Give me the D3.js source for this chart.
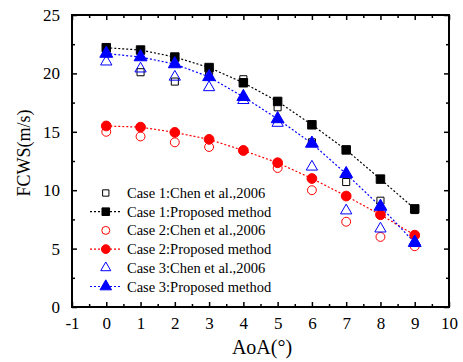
<!DOCTYPE html>
<html>
<head>
<meta charset="utf-8">
<script src="https://cdn.jsdelivr.net/npm/d3@7"></script>
<style>
  body { margin: 0; background: #fff; }
</style>
</head>
<body>
<svg id="chart" width="463" height="362"></svg>
<script>
// Données
const aoa = [0, 1, 2, 3, 4, 5, 6, 7, 8, 9]
const case1Chen = [21.8, 20.1, 19.3, 19.8, 19.5, 17.1, 14.1, 10.7, 9.1, 8.3]
const case1Prop = [22.2, 22.0, 21.4, 20.5, 19.2, 17.6, 15.6, 13.45, 10.95, 8.4]
const case2Chen = [15.0, 14.6, 14.1, 13.7, 13.4, 11.9, 10.0, 7.3, 6.0, 5.2]
const case2Prop = [15.5, 15.4, 14.95, 14.35, 13.4, 12.35, 11.0, 9.5, 7.9, 6.15]
const case3Chen = [21.0, 20.4, 19.7, 18.8, 17.7, 15.75, 12.0, 8.25, 6.7, 5.6]
const case3Prop = [21.7, 21.4, 20.8, 19.7, 18.0, 16.1, 14.0, 11.4, 8.6, 5.5]
const xTicks = [-1, 0, 1, 2, 3, 4, 5, 6, 7, 8, 9, 10]
const yTicks = [0, 5, 10, 15, 20, 25]
const legendLabels = [
    "Case 1:Chen et al.,2006", "Case 1:Proposed method",
    "Case 2:Chen et al.,2006", "Case 2:Proposed method",
    "Case 3:Chen et al.,2006", "Case 3:Proposed method"
]

const svg = d3.select("#chart")
const mLeft = 72, mRight = 449, mTop = 15, mBottom = 307
const serif = "'Liberation Serif', serif"

const x = d3.scaleLinear().domain([-1, 10]).range([mLeft, mRight])
const y = d3.scaleLinear().domain([0, 25]).range([mBottom, mTop])

// Séries
const series = [
    { vals: case1Chen, color: "black", shape: d3.symbolSquare, size: 50, fill: false, line: false },
    { vals: case1Prop, color: "black", shape: d3.symbolSquare, size: 72, fill: true, line: true },
    { vals: case2Chen, color: "red", shape: d3.symbolCircle, size: 62, fill: false, line: false },
    { vals: case2Prop, color: "red", shape: d3.symbolCircle, size: 75, fill: true, line: true },
    { vals: case3Chen, color: "blue", shape: d3.symbolTriangle, size: 55, fill: false, line: false },
    { vals: case3Prop, color: "blue", shape: d3.symbolTriangle, size: 72, fill: true, line: true }
]

// Axes (ticks vers l'intérieur, miroir)
const minorX = d3.range(-0.5, 10, 1)
const minorY = d3.range(2.5, 25, 5)

svg.append("g")
    .attr("transform", `translate(0,${mBottom})`)
    .call(d3.axisBottom(x).tickValues(xTicks).tickSize(-5).tickPadding(10).tickFormat(d => String(d)))
    .call(g => g.select(".domain").remove())
svg.append("g")
    .attr("transform", `translate(0,${mBottom})`)
    .call(d3.axisBottom(x).tickValues(minorX).tickSize(-3).tickFormat(""))
    .call(g => g.select(".domain").remove())
svg.append("g")
    .attr("transform", `translate(0,${mTop})`)
    .call(d3.axisTop(x).tickValues(xTicks).tickSize(-5).tickFormat(""))
    .call(g => g.select(".domain").remove())
svg.append("g")
    .attr("transform", `translate(0,${mTop})`)
    .call(d3.axisTop(x).tickValues(minorX).tickSize(-3).tickFormat(""))
    .call(g => g.select(".domain").remove())

svg.append("g")
    .attr("transform", `translate(${mLeft},0)`)
    .call(d3.axisLeft(y).tickValues(yTicks).tickSize(-5).tickPadding(12))
    .call(g => g.select(".domain").remove())
svg.append("g")
    .attr("transform", `translate(${mLeft},0)`)
    .call(d3.axisLeft(y).tickValues(minorY).tickSize(-3).tickFormat(""))
    .call(g => g.select(".domain").remove())
svg.append("g")
    .attr("transform", `translate(${mRight},0)`)
    .call(d3.axisRight(y).tickValues(yTicks).tickSize(-5).tickFormat(""))
    .call(g => g.select(".domain").remove())
svg.append("g")
    .attr("transform", `translate(${mRight},0)`)
    .call(d3.axisRight(y).tickValues(minorY).tickSize(-3).tickFormat(""))
    .call(g => g.select(".domain").remove())

svg.selectAll(".tick line").attr("stroke", "black").attr("stroke-width", 1.5)
svg.selectAll(".tick text")
    .attr("font-size", 17)
    .attr("fill", "black")

// Cadre
svg.append("rect")
    .attr("x", mLeft).attr("y", mTop)
    .attr("width", mRight - mLeft).attr("height", mBottom - mTop)
    .attr("fill", "none").attr("stroke", "black").attr("stroke-width", 2)

// Titres
svg.append("text")
    .attr("x", 262).attr("y", 354)
    .attr("text-anchor", "middle").attr("font-size", 20)
    .text("AoA(°)")
svg.append("text")
    .attr("transform", `translate(30,${(mTop + mBottom) / 2 - 8}) rotate(-90)`)
    .attr("text-anchor", "middle").attr("font-size", 18)
    .text("FCWS(m/s)")

// Légende
const legY0 = 193, legStep = 18.7
legendLabels.forEach((lab, i) => {
    const s = series[i]
    const ly = legY0 + i * legStep
    if (s.line) {
        svg.append("line")
            .attr("x1", 90).attr("x2", 122).attr("y1", ly).attr("y2", ly)
            .attr("stroke", s.color).attr("stroke-width", 1.2).attr("stroke-dasharray", "2,2")
    }
    svg.append("path")
        .attr("transform", `translate(${x(0) - 0.5},${ly})`)
        .attr("d", d3.symbol().type(s.shape).size(s.size * 0.8)())
        .attr("fill", s.fill ? s.color : "white")
        .attr("stroke", s.color).attr("stroke-width", 1)
    svg.append("text")
        .attr("x", 127).attr("y", ly + 5)
        .attr("font-size", 14.5)
        .text(lab)
})

// Lignes et marqueurs
const lineGen = d3.line().x((d, i) => x(aoa[i])).y(d => y(d))
series.forEach(s => {
    if (s.line) {
        svg.append("path")
            .datum(s.vals)
            .attr("d", lineGen)
            .attr("fill", "none")
            .attr("stroke", s.color).attr("stroke-width", 1.2).attr("stroke-dasharray", "2,2")
    }
})
series.forEach(s => {
    svg.append("g").selectAll("path")
        .data(s.vals)
        .enter()
        .append("path")
        .attr("transform", (d, i) => `translate(${x(aoa[i])},${y(d)})`)
        .attr("d", d3.symbol().type(s.shape).size(s.size)())
        .attr("fill", s.fill ? s.color : "none")
        .attr("stroke", s.color).attr("stroke-width", 1)
})

// Police serif partout
svg.selectAll("text").style("font-family", serif)
</script>
</body>
</html>
